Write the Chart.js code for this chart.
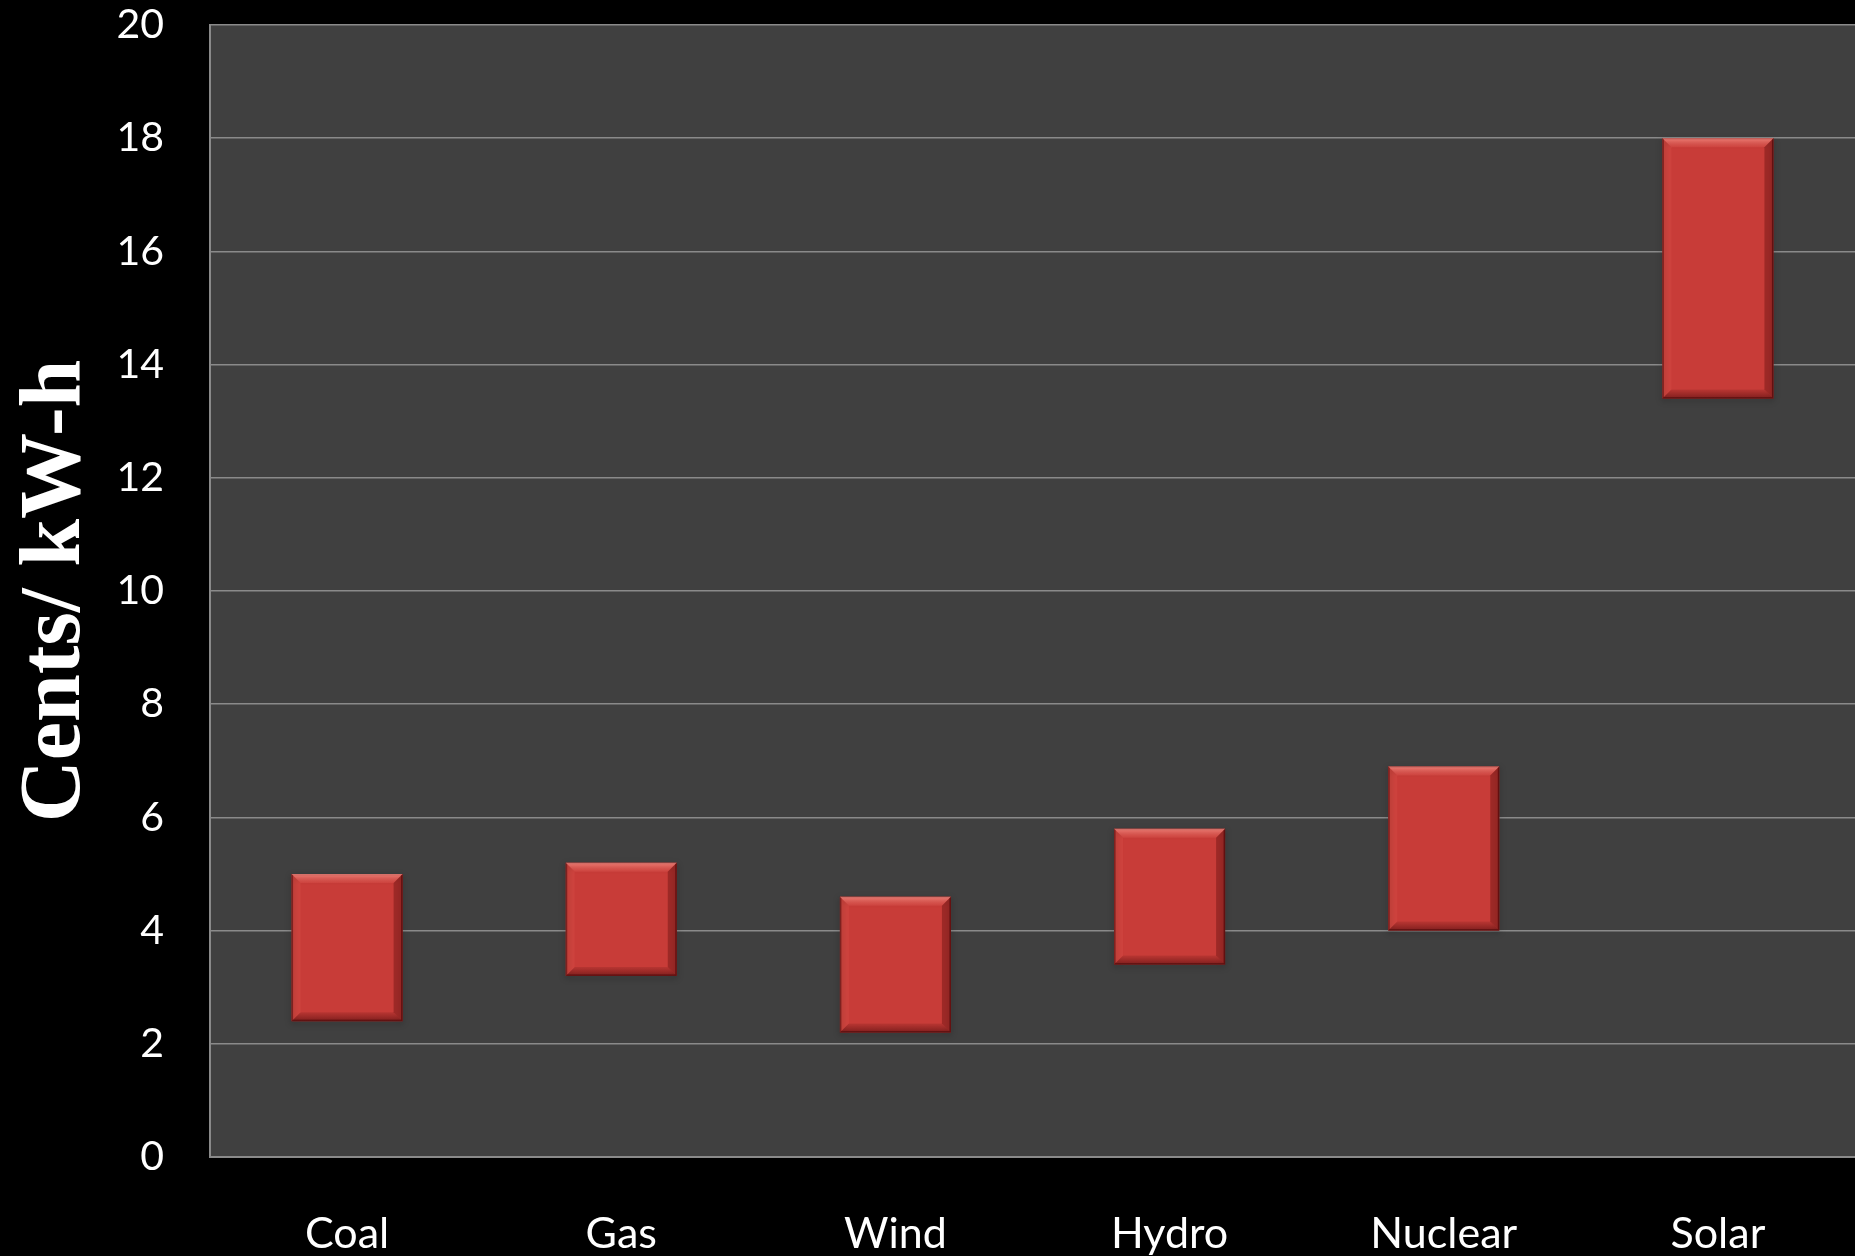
<!DOCTYPE html>
<html>
<head>
<meta charset="utf-8">
<script src="https://cdn.jsdelivr.net/npm/chart.js@4/dist/chart.umd.min.js"></script>
<style>
  html, body { margin: 0; padding: 0; background: #000; }
  #wrap { width: 1855px; height: 1256px; }
</style>
</head>
<body>
<div id="wrap"><canvas id="cost"></canvas></div>
<script>
// cost ranges per source, cents per kW-h
const sources = ["Coal", "Gas", "Wind", "Hydro", "Nuclear", "Solar"];
const lowCost = [2.4, 3.2, 2.2, 3.4, 4.0, 13.4];
const highCost = [5.0, 5.2, 4.6, 5.8, 6.9, 18.0];
const yTicks = [0, 2, 4, 6, 8, 10, 12, 14, 16, 18, 20];

const ranges = sources.map((s, i) => [lowCost[i], highCost[i]]);

// grey plotting area behind the bars
const plotBg = {
  id: "plotBg",
  beforeDraw(chart) {
    const { ctx, chartArea: a } = chart;
    ctx.save();
    ctx.fillStyle = "#404040";
    ctx.fillRect(a.left, a.top, a.right - a.left, a.bottom - a.top);
    ctx.restore();
  }
};

// bevelled edges on each bar
const bevel = {
  id: "bevel",
  afterDatasetsDraw(chart) {
    const ctx = chart.ctx;
    chart.getDatasetMeta(0).data.forEach((bar) => {
      const p = bar.getProps(["x", "y", "base", "width"], true);
      const l = p.x - p.width / 2, r = p.x + p.width / 2;
      const t = Math.min(p.y, p.base), b = Math.max(p.y, p.base);
      const d = 9;
      ctx.save();
      ctx.shadowColor = "rgba(0,0,0,0.5)";
      ctx.shadowBlur = 6;
      ctx.shadowOffsetY = 2;
      ctx.strokeStyle = "rgba(100,18,18,0.9)";
      ctx.lineWidth = 1.5;
      ctx.strokeRect(l + 0.75, t + 0.75, r - l - 1.5, b - t - 1.5);
      ctx.shadowColor = "transparent";
      // top
      const gt = ctx.createLinearGradient(0, t, 0, t + d);
      gt.addColorStop(0, "rgba(255,150,140,0.75)");
      gt.addColorStop(1, "rgba(255,120,110,0.15)");
      ctx.fillStyle = gt;
      ctx.beginPath();
      ctx.moveTo(l, t); ctx.lineTo(r, t); ctx.lineTo(r - d, t + d); ctx.lineTo(l + d, t + d);
      ctx.closePath(); ctx.fill();
      // bottom
      const gb = ctx.createLinearGradient(0, b - d, 0, b);
      gb.addColorStop(0, "rgba(90,15,15,0.15)");
      gb.addColorStop(1, "rgba(90,15,15,0.6)");
      ctx.fillStyle = gb;
      ctx.beginPath();
      ctx.moveTo(l, b); ctx.lineTo(r, b); ctx.lineTo(r - d, b - d); ctx.lineTo(l + d, b - d);
      ctx.closePath(); ctx.fill();
      // left
      ctx.fillStyle = "rgba(255,120,110,0.12)";
      ctx.beginPath();
      ctx.moveTo(l, t); ctx.lineTo(l + d, t + d); ctx.lineTo(l + d, b - d); ctx.lineTo(l, b);
      ctx.closePath(); ctx.fill();
      // right
      ctx.fillStyle = "rgba(80,10,10,0.35)";
      ctx.beginPath();
      ctx.moveTo(r, t); ctx.lineTo(r - d, t + d); ctx.lineTo(r - d, b - d); ctx.lineTo(r, b);
      ctx.closePath(); ctx.fill();
      ctx.restore();
    });
  }
};

function barFill(context) {
  const { chart } = context;
  const el = context.element;
  if (!chart.chartArea || !el) return "#c83c38";
  const p = el.getProps(["y", "base"], true);
  const t = Math.min(p.y, p.base), b = Math.max(p.y, p.base);
  if (!isFinite(t) || !isFinite(b) || t === b) return "#c83c38";
  const g = chart.ctx.createLinearGradient(0, t, 0, b);
  g.addColorStop(0, "#dc4843");
  g.addColorStop(0.5, "#ca403c");
  g.addColorStop(1, "#a83230");
  return g;
}

new Chart(document.getElementById("cost"), {
  type: "bar",
  data: {
    labels: sources,
    datasets: [{
      data: ranges,
      backgroundColor: barFill,
      borderWidth: 0,
      barPercentage: 0.81,
      categoryPercentage: 0.5
    }]
  },
  options: {
    responsive: true,
    maintainAspectRatio: false,
    animation: false,
    layout: { padding: 0 },
    plugins: {
      legend: { display: false },
      tooltip: { enabled: false }
    },
    scales: {
      x: {
        afterFit(scale) {
          scale.height = 99;
          scale.paddingTop = 0;
          scale.paddingBottom = 0;
        },
        grid: { display: false, drawTicks: false },
        border: { display: true, color: "#8a8a8a", width: 2 },
        ticks: {
          color: "#ffffff",
          padding: 51,
          maxRotation: 0,
          font: { family: "Lato", size: 43 }
        }
      },
      y: {
        min: 0,
        max: 20,
        afterBuildTicks(scale) {
          scale.ticks = yTicks.map((v) => ({ value: v }));
        },
        afterFit(scale) {
          scale.width = 210;
          scale.paddingTop = 25;
          scale.paddingBottom = 0;
        },
        grid: { color: "#8a8a8a", lineWidth: 1.5, drawTicks: false },
        border: { display: true, color: "#8a8a8a", width: 2 },
        ticks: {
          color: "#ffffff",
          padding: 46,
          font: { family: "Lato", size: 41 }
        },
        title: {
          display: true,
          text: "Cents/ kW-h",
          color: "#ffffff",
          padding: { top: 14, bottom: 0 },
          font: { family: "Liberation Serif", size: 86, weight: "bold", lineHeight: 1 }
        }
      }
    }
  },
  plugins: [plotBg, bevel]
});
</script>
</body>
</html>
